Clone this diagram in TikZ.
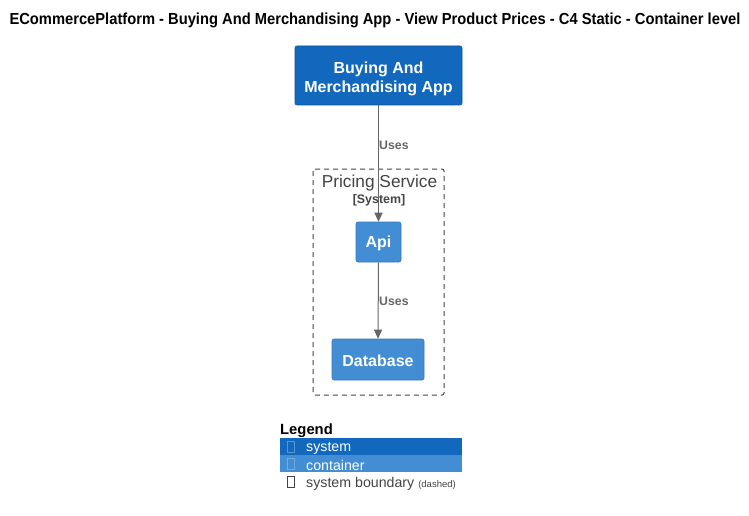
\documentclass[tikz,border=0pt]{standalone}
\usepackage{fontspec}
\setmainfont{Liberation Sans}
\usetikzlibrary{arrows.meta}
\definecolor{sysblue}{HTML}{1168BD}
\definecolor{conblue}{HTML}{438DD5}
\definecolor{lblgray}{HTML}{666666}
\definecolor{bndgray}{HTML}{444444}
\tikzset{
  sysbox/.style={fill=sysblue, draw=sysblue!80!black, line width=0.6pt, rounded corners=2pt, inner sep=0pt},
  conbox/.style={fill=conblue, draw=conblue!85!black, line width=0.6pt, rounded corners=2pt, inner sep=0pt},
  boxtxt/.style={text=white, font=\fontsize{16}{19}\selectfont\bfseries, align=center, inner sep=0pt},
  rel/.style={draw=lblgray, line width=1pt, -{Triangle[length=9pt,width=8pt]}},
  rellbl/.style={text=lblgray, font=\fontsize{12.3}{14}\selectfont\bfseries, anchor=west, inner sep=0pt},
  bnd/.style={draw=bndgray, line width=1pt, dash pattern=on 5pt off 4pt, rounded corners=2pt},
  legrow/.style={minimum width=182pt, minimum height=17pt, inner sep=0pt, anchor=north west},
  legtxt/.style={font=\fontsize{14.2}{16}\selectfont, anchor=west, inner sep=0pt},
  tofu/.style={draw, line width=0.5pt, minimum width=7pt, minimum height=11pt, inner sep=0pt}
}
\begin{document}
\begin{tikzpicture}[x=1pt,y=-1pt]
\useasboundingbox (0,0) rectangle (749,516);
\fill[white] (0,0) rectangle (749,516);
% title
\node[font=\fontsize{16}{18}\selectfont\bfseries, inner sep=0pt] (title) at (375,20) {\addfontfeature{FakeStretch=0.92}ECommercePlatform - Buying And Merchandising App - View Product Prices - C4 Static - Container level};
% boundary
\draw[bnd] (313,169) rectangle (444,395);
\node[text=bndgray, font=\fontsize{17.3}{19}\selectfont, inner sep=0pt] (bname) at (379.5,183.5) {Pricing Service};
\node[text=bndgray, font=\fontsize{12.4}{14}\selectfont\bfseries, inner sep=0pt] (btype) at (379,200) {[System]};
% boxes
\node[sysbox, minimum width=167pt, minimum height=59pt] (app) at (378.5,75.5) {};
\node[boxtxt] (apptxt) at (378.5,78.5) {Buying And\\Merchandising App};
\node[conbox, minimum width=45pt, minimum height=40pt] (api) at (378.5,242) {};
\node[boxtxt] (apitxt) at (378.5,243) {Api};
\node[conbox, minimum width=92pt, minimum height=41pt] (db) at (378,359.5) {};
\node[boxtxt] (dbtxt) at (378,360.5) {Database};
% relations
\draw[rel] (app.south) -- (api.north);
\node[rellbl] (l1) at (379,145.5) {Uses};
\draw[rel] (api.south) -- (db.north);
\node[rellbl] (l2) at (379,301.5) {Uses};
% legend
\node[font=\fontsize{14.8}{16}\selectfont\bfseries, anchor=west, inner sep=0pt] (leg) at (280,430.5) {Legend};
\node[legrow, fill=sysblue] (r1) at (280,438) {};
\node[legrow, fill=conblue] (r2) at (280,455) {};
\node[legrow] (r3) at (280,472) {};
\node[tofu, draw=white!30!sysblue] (t1) at (291,447) {};
\node[legtxt, text=white] (x1) at (306,448.5) {system};
\node[tofu, draw=white!25!conblue] (t2) at (291,464) {};
\node[legtxt, text=white] (x2) at (306,465) {container};
\node[tofu, draw=bndgray] (t3) at (291,482) {};
\node[legtxt, text=bndgray] (x3) at (306,483.5) {system boundary {\fontsize{9.5}{11}\selectfont(dashed)}};
\end{tikzpicture}
\end{document}
